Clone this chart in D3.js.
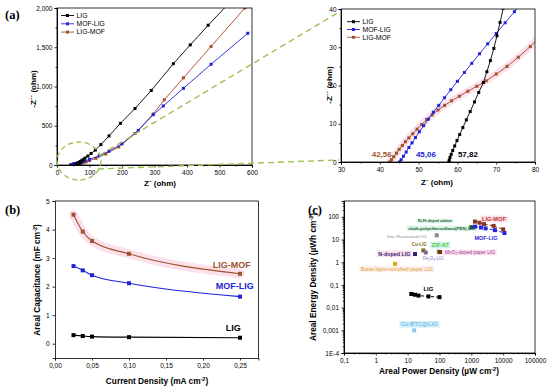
<!DOCTYPE html>
<html>
<head>
<meta charset="utf-8">
<script src="https://cdn.jsdelivr.net/npm/d3@7"></script>
<style>
body { margin: 0; background: #fff; }
svg { display: block; font-family: "Liberation Sans", Arial, sans-serif; }
.axis path, .axis line { stroke: #000; stroke-width: 0.8; }
.axis text { font-size: 6.5px; fill: #000; font-family: "Liberation Sans", Arial, sans-serif; }
.bold { font-weight: bold; }
</style>
</head>
<body>
<div id="graphics"></div>
<script>
// ---------- data: (a) Nyquist plots, Z' and -Z'' in ohm ----------
const ligRe = [57.82, 57.9, 58.1, 58.4, 58.8, 59.3, 59.9, 60.6, 61.4, 62.3, 63.3, 64.4, 65.5, 66.7, 67.6, 68.5, 69.4, 70.2, 71, 71.8, 72.6, 75, 80, 86, 95, 105, 118, 135, 160, 195, 240, 290, 358, 410, 465, 520];
const ligIm = [0, 0.5, 1.2, 2, 3, 4.2, 5.6, 7.2, 9, 11, 13.2, 15.7, 18.2, 20.8, 23.6, 26.5, 29.7, 33, 36.5, 40.2, 44, 53, 68, 88, 114, 147, 190, 260, 370, 530, 720, 950, 1290, 1530, 1780, 2020];

const mofRe = [45.06, 45.5, 46.1, 46.8, 47.5, 48.3, 49.2, 50.2, 51.3, 52.5, 53.8, 55.2, 56.7, 58.3, 60, 61.8, 63.7, 65.7, 67.8, 70, 72.3, 74.7, 77.2, 85, 100, 130, 160, 200, 250, 296, 327, 389, 474, 587];
const mofIm = [0, 0.6, 1.5, 2.6, 3.8, 5, 6.4, 7.9, 9.5, 11.2, 13, 14.8, 16.8, 18.9, 21.1, 23.4, 25.8, 28.3, 30.9, 33.6, 36.4, 39.3, 42.3, 52, 72, 118, 175, 270, 440, 640, 752, 977, 1283, 1678];

const lmRe = [42.56, 43, 43.6, 44.3, 45, 45.8, 46.6, 47.5, 48.5, 49.6, 50.8, 52.1, 53.5, 55, 56.7, 58.5, 60.5, 62.7, 65, 67.4, 70, 72.8, 75.7, 78.8, 82, 90, 100, 120, 150, 190, 240, 296, 330, 389, 474, 578, 640];
const lmIm = [0, 0.6, 1.4, 2.3, 3.3, 4.3, 5.3, 6.3, 7.4, 8.6, 9.8, 11.1, 12.3, 13.6, 14.8, 16, 17.2, 18.5, 19.8, 21.2, 23, 25, 27.4, 30.2, 33.5, 41, 55, 85, 140, 230, 400, 650, 830, 1110, 1510, 2000, 2280];

const seriesNames = ['LIG', 'MOF-LIG', 'LIG-MOF'];
const interceptLabels = ['57,82', '45,06', '42,56'];

// ---------- data: (b) areal capacitance ----------
const currentDensity = [0.025, 0.0375, 0.05, 0.1, 0.25];
const capLigMof = [4.52, 3.93, 3.6, 3.15, 2.45];
const capMofLig = [2.72, 2.57, 2.4, 2.12, 1.65];
const capLig = [0.3, 0.27, 0.25, 0.23, 0.21];

// ---------- data: (c) Ragone plot ----------
const ragLigMofP = [1300, 1800, 2500, 5000, 10000];
const ragLigMofE = [62, 55, 48, 40, 28];
const ragMofLigP = [1300, 2000, 2800, 5500, 11000];
const ragMofLigE = [37, 34, 31, 26, 19.5];
const ragLigP = [13, 17, 22, 45, 100];
const ragLigE = [0.04, 0.037, 0.034, 0.031, 0.029];

const litNames = ['Ni-Fe doped carbon|cloth-polyethersulfone(PES) LIG', 'Zinc-Fluorinated LIG', 'Cu-LIG', 'ZIF-67', 'Fe₂O₃-LIG', 'MnO₂-doped paper LIG', 'N-doped LIG', 'Borax-lignin-enriched paper LIG', 'Cu-BTC@LIG'];
const litPower = [1000, 82, 31, 95, 37, 105, 17, 4, 16];
const litEnergy = [35, 15.4, 3.3, 2.9, 2.7, 2.8, 2.3, 0.85, 0.001];

const xTicksC = [0.1, 1, 10, 100, 1000, 10000, 100000];
const xTickLabelsC = ['0,1', '1', '10', '100', '1000', '10000', '100000'];
const yTicksC = [1e-4, 1e-3, 1e-2, 0.1, 1, 10, 100];
const yTickLabelsC = ['1E-4', '0,001', '0,01', '0,1', '1', '10', '100'];

// ---------- styling / layout ----------
const colLIG = '#000000', colMOF = '#2222d8', colLM = '#a0522d';
const seriesColors = [colLIG, colMOF, colLM];
const litColors = ['#1f5a1f', '#8c8c8c', '#8a7412', '#5cc43a', '#8a6cc8', '#9a3aa0', '#3a1f70', '#e0a020', '#52b2e6'];
const litMarker = ['#1f5a1f', '#8c8c8c', '#7d6a18', '#4f9a35', '#7a6aa0', '#7a2a22', '#3a1f70', '#e0a020', '#8ac8f0'];
const litBg = ['#dcf5ec', null, null, '#cdf3ee', null, '#fde0ec', '#fde0ec', '#fdeef0', '#d2effa'];
// label centre offsets from the marker and target text widths (pixels)
const litLabelPos = [[[-36.3, -6.2], [-29.6, 1.1]], [[-30.1, 1.4]], [[-4, -6.2]], [[1.5, -6.7]], [[7.6, 6.5]], [[29.8, 0.4]], [[-20.7, -0.3]], [[1.7, 5.2]], [[5.1, -6]]];
const litLabelW = [[34, 67], [40], [15], [17], [21], [50], [32], [72], [37]];
const litBold = [true, false, true, true, false, false, true, false, false];

const svg = d3.select('#graphics').append('svg').attr('width', 550).attr('height', 390);
svg.append('rect').attr('width', 550).attr('height', 390).attr('fill', '#fff');
const defs = svg.append('defs');

function clip(id, x, y, w, h) {
  defs.append('clipPath').attr('id', id).append('rect').attr('x', x).attr('y', y).attr('width', w).attr('height', h);
}

function square(g, x, y, s, fill) {
  g.append('rect').attr('x', x - s / 2).attr('y', y - s / 2).attr('width', s).attr('height', s).attr('fill', fill);
}

// shrink / grow a text so it spans the given width
function fitText(t, w) {
  const len = t.node().getComputedTextLength();
  const f = parseFloat(t.attr('font-size'));
  if (len > 0) t.attr('font-size', f * w / len);
}

function highlight(layer, t, fill) {
  const b = t.node().getBBox();
  layer.insert('rect', 'text').attr('x', b.x - 1.5).attr('y', b.y - 0.3)
    .attr('width', b.width + 3).attr('height', b.height + 0.6).attr('fill', fill);
}

function panelLetter(txt, x, y) {
  svg.append('text').text(txt).attr('x', x).attr('y', y)
    .attr('font-family', '"Liberation Serif", "Times New Roman", serif')
    .attr('font-weight', 'bold').attr('font-size', 12.5);
}

// ================= (a) Nyquist plots =================
const xL = d3.scaleLinear().domain([0, 600]).range([57, 252]);
const yL = d3.scaleLinear().domain([0, 2000]).range([165, 8]);
const xR = d3.scaleLinear().domain([30, 80]).range([341, 535]);
const yR = d3.scaleLinear().domain([0, 40]).range([162, 9]);

const eis = [d3.zip(ligRe, ligIm), d3.zip(mofRe, mofIm), d3.zip(lmRe, lmIm)];

function nyquist(xs, ys, clipId, ms, majX, minX, majY, minY, halo) {
  const [x0, x1] = xs.range(), [y0, y1] = ys.range();
  clip(clipId, x0, y1, x1 - x0, y0 - y1);
  const g = svg.append('g');
  const line = d3.line().x(d => xs(d[0])).y(d => ys(d[1]));
  const plot = g.append('g').attr('clip-path', `url(#${clipId})`);
  if (halo) {
    plot.append('path').datum(eis[2]).attr('d', line).attr('fill', 'none')
      .attr('stroke', '#fbe1ec').attr('stroke-width', 7).attr('stroke-linecap', 'round');
  }
  g.append('g').attr('class', 'axis').attr('transform', `translate(0,${y0})`)
    .call(d3.axisBottom(xs).tickValues(majX).tickSize(2.5).tickPadding(2.5));
  g.append('g').attr('class', 'axis').attr('transform', `translate(0,${y0})`)
    .call(d3.axisBottom(xs).tickValues(minX).tickSize(1.5).tickFormat(''));
  g.append('g').attr('class', 'axis').attr('transform', `translate(${x0},0)`)
    .call(d3.axisLeft(ys).tickValues(majY).tickSize(2.5).tickPadding(2));
  g.append('g').attr('class', 'axis').attr('transform', `translate(${x0},0)`)
    .call(d3.axisLeft(ys).tickValues(minY).tickSize(1.5).tickFormat(''));
  g.append('rect').attr('x', x0).attr('y', y1).attr('width', x1 - x0).attr('height', y0 - y1)
    .attr('fill', 'none').attr('stroke', '#000').attr('stroke-width', 0.8);
  [2, 1, 0].forEach(i => {
    plot.append('path').datum(eis[i]).attr('d', line).attr('fill', 'none')
      .attr('stroke', i === 2 ? '#b2402a' : seriesColors[i]).attr('stroke-width', 0.9);
    eis[i].forEach(d => square(plot, xs(d[0]), ys(d[1]), ms, seriesColors[i]));
  });
  return g;
}

nyquist(xL, yL, 'clipL', 3,
  d3.range(0, 601, 100), d3.range(50, 600, 100),
  d3.range(0, 2001, 500), d3.range(250, 2000, 500), false);

nyquist(xR, yR, 'clipR', 3,
  d3.range(30, 81, 10), d3.range(35, 80, 10),
  d3.range(0, 41, 10), d3.range(5, 40, 10), true);

// legends
function legend(x, y0, dy) {
  seriesNames.forEach((n, i) => {
    const y = y0 + i * dy;
    svg.append('line').attr('x1', x).attr('x2', x + 13).attr('y1', y).attr('y2', y)
      .attr('stroke', seriesColors[i]).attr('stroke-width', 0.9);
    square(svg, x + 6.5, y, 3, seriesColors[i]);
    svg.append('text').text(n).attr('x', x + 15.5).attr('y', y + 2.3).attr('font-size', 6.8);
  });
}
legend(61, 15.5, 8.3);
legend(347, 21.7, 7.8);

// axis titles
svg.append('text').attr('class', 'bold').attr('font-size', 8).attr('text-anchor', 'middle')
  .attr('transform', 'translate(36,89) rotate(-90)').text('-Z´´ (ohm)');
svg.append('text').attr('class', 'bold').attr('font-size', 8).attr('text-anchor', 'middle')
  .attr('x', 160).attr('y', 186).text('Z´ (ohm)');
svg.append('text').attr('class', 'bold').attr('font-size', 8).attr('text-anchor', 'middle')
  .attr('transform', 'translate(332,85) rotate(-90)').text('-Z´´ (ohm)');
svg.append('text').attr('class', 'bold').attr('font-size', 8).attr('text-anchor', 'middle')
  .attr('x', 437).attr('y', 185).text('Z´ (ohm)');

// intercept values
const interceptDx = [19, 26.5, -8];
[0, 1, 2].forEach(i => {
  svg.append('text').attr('class', 'bold').attr('font-size', 8).attr('text-anchor', 'middle')
    .attr('fill', seriesColors[i])
    .attr('x', xR(eis[i][0][0]) + interceptDx[i]).attr('y', yR(0) - 5)
    .text(interceptLabels[i]);
});

// zoom marker: dashed ellipse + connecting lines
const zoomCol = '#9dc253';
svg.append('ellipse').attr('cx', 79).attr('cy', 161).attr('rx', 22).attr('ry', 19)
  .attr('fill', 'none').attr('stroke', zoomCol).attr('stroke-width', 1.4).attr('stroke-dasharray', '5,3.5');
svg.append('line').attr('x1', 100).attr('y1', 155).attr('x2', 339).attr('y2', 12)
  .attr('stroke', zoomCol).attr('stroke-width', 1.4).attr('stroke-dasharray', '6,4');
svg.append('line').attr('x1', 98).attr('y1', 169).attr('x2', 339).attr('y2', 160)
  .attr('stroke', zoomCol).attr('stroke-width', 1.4).attr('stroke-dasharray', '6,4');

panelLetter('(a)', 5, 19);

// ================= (b) areal capacitance =================
const xB = d3.scaleLinear().domain([0, 0.275]).range([55, 258.5]);
const yB = d3.scaleLinear().domain([-0.5, 5]).range([358, 201]);
const gB = svg.append('g');
const capSeries = [capLig, capMofLig, capLigMof];
const capLine = d3.line().curve(d3.curveMonotoneX).x(d => xB(d[0])).y(d => yB(d[1]));
gB.append('path').datum(d3.zip(currentDensity, capLigMof)).attr('d', capLine).attr('fill', 'none')
  .attr('stroke', '#fbe1ec').attr('stroke-width', 9).attr('stroke-linecap', 'round');
gB.append('g').attr('class', 'axis').attr('transform', 'translate(0,358)')
  .call(d3.axisBottom(xB).tickValues(d3.range(0, 0.26, 0.05)).tickSize(2.5).tickPadding(3)
    .tickFormat(d => d3.format('.2f')(d).replace('.', ',')));
gB.append('g').attr('class', 'axis').attr('transform', 'translate(55,0)')
  .call(d3.axisLeft(yB).tickValues(d3.range(0, 6)).tickSize(2.5).tickPadding(3).tickFormat(d3.format('d')));
gB.append('line').attr('x1', 55).attr('x2', 258.5).attr('y1', 201).attr('y2', 201).attr('stroke', '#000').attr('stroke-width', 0.8);
gB.append('line').attr('x1', 258.5).attr('x2', 258.5).attr('y1', 201).attr('y2', 358).attr('stroke', '#000').attr('stroke-width', 0.8);
gB.selectAll('.axis text').attr('font-size', 7.2);

capSeries.forEach((vals, i) => {
  const pts = d3.zip(currentDensity, vals);
  gB.append('path').datum(pts).attr('d', capLine).attr('fill', 'none')
    .attr('stroke', seriesColors[i]).attr('stroke-width', 1.1);
  pts.forEach(d => square(gB, xB(d[0]), yB(d[1]), 4, seriesColors[i]));
});
const capLabelY = [0.46, 1.92, 2.67];
const capLabelX = [0.241, 0.243, 0.2388];
[0, 1, 2].forEach(i => {
  gB.append('text').attr('class', 'bold').attr('font-size', 9).attr('text-anchor', 'middle')
    .attr('fill', seriesColors[i]).attr('x', xB(capLabelX[i])).attr('y', yB(capLabelY[i]))
    .text(seriesNames[i]);
});

function axisTitle(x, y, rot, txt) {
  const t = svg.append('text').attr('class', 'bold').attr('font-size', 8.3).attr('text-anchor', 'middle')
    .attr('transform', `translate(${x},${y})` + (rot ? ' rotate(-90)' : ''));
  t.append('tspan').text(txt);
  t.append('tspan').text('-2').attr('font-size', 5.5).attr('dy', -3);
  t.append('tspan').text(')').attr('dy', 3);
}
axisTitle(40, 280, true, 'Areal Capacitance (mF cm');
axisTitle(157, 384, false, 'Current Density (mA cm');

panelLetter('(b)', 5, 214);

// ================= (c) Ragone plot =================
const xC = d3.scaleLog().domain([0.1, 1e5]).range([344, 535]);
const yC = d3.scaleLog().domain([1e-4, 500]).range([353, 201]);
const gC = svg.append('g');
const minorX = [], minorY = [];
for (let e = -1; e < 5; e++) for (let k = 2; k < 10; k++) minorX.push(k * Math.pow(10, e));
for (let e = -4; e < 3; e++) for (let k = 2; k < 10; k++) if (k * Math.pow(10, e) <= 500) minorY.push(k * Math.pow(10, e));
gC.append('g').attr('class', 'axis').attr('transform', 'translate(0,353)')
  .call(d3.axisBottom(xC).tickValues(xTicksC).tickSize(2.5).tickPadding(3)
    .tickFormat((d, i) => xTickLabelsC[i]));
gC.append('g').attr('class', 'axis').attr('transform', 'translate(0,353)')
  .call(d3.axisBottom(xC).tickValues(minorX).tickSize(1.3).tickFormat(''));
gC.append('g').attr('class', 'axis').attr('transform', 'translate(344,0)')
  .call(d3.axisLeft(yC).tickValues(yTicksC).tickSize(2.5).tickPadding(2.5)
    .tickFormat((d, i) => yTickLabelsC[i]));
gC.append('g').attr('class', 'axis').attr('transform', 'translate(344,0)')
  .call(d3.axisLeft(yC).tickValues(minorY).tickSize(1.3).tickFormat(''));
gC.append('rect').attr('x', 344).attr('y', 201).attr('width', 191).attr('height', 152)
  .attr('fill', 'none').attr('stroke', '#000').attr('stroke-width', 0.8);

// literature points with labels
const labelLayer = gC.append('g');
const markLayer = gC.append('g');
litNames.forEach((name, i) => {
  const px = xC(litPower[i]), py = yC(litEnergy[i]);
  name.split('|').forEach((ln, j) => {
    const [dx, dy] = litLabelPos[i][j];
    const t = labelLayer.append('text').attr('x', px + dx).attr('y', py + dy)
      .attr('text-anchor', 'middle').attr('dominant-baseline', 'central').attr('font-size', 5)
      .attr('font-weight', litBold[i] ? 'bold' : 'normal').attr('fill', litColors[i]).text(ln);
    fitText(t, litLabelW[i][j]);
    if (litBg[i]) highlight(labelLayer, t, litBg[i]);
  });
  square(markLayer, px, py, 4, litMarker[i]);
});

const ragLine = d3.line().x(d => xC(d[0])).y(d => yC(d[1]));
const ragSeries = [d3.zip(ragLigP, ragLigE), d3.zip(ragMofLigP, ragMofLigE), d3.zip(ragLigMofP, ragLigMofE)];
const ragColors = ['#000', '#2525e0', '#8b3324'];
ragSeries.forEach((pts, i) => {
  markLayer.append('path').datum(pts).attr('d', ragLine).attr('fill', 'none')
    .attr('stroke', ragColors[i]).attr('stroke-width', 1).attr('stroke-dasharray', '3,2');
  pts.forEach(d => square(markLayer, xC(d[0]), yC(d[1]), 4, ragColors[i]));
});
// series labels, centred relative to one point of each series
const ragLabRef = [3, 2, 3];
const ragLabOff = [[0, -7.5], [0.4, 9.3], [0.4, -6.9]];
const ragLabW = [10, 23, 24];
const ragLabCol = ['#000', '#2525e0', '#c0392b'];
const ragLabBg = [null, null, '#fde0ec'];
[0, 1, 2].forEach(i => {
  const p = ragSeries[i][ragLabRef[i]];
  const t = labelLayer.append('text').attr('class', 'bold').attr('font-size', 6)
    .attr('text-anchor', 'middle').attr('dominant-baseline', 'central').attr('fill', ragLabCol[i])
    .attr('x', xC(p[0]) + ragLabOff[i][0]).attr('y', yC(p[1]) + ragLabOff[i][1]).text(seriesNames[i]);
  fitText(t, ragLabW[i]);
  if (ragLabBg[i]) highlight(labelLayer, t, ragLabBg[i]);
});

axisTitle(316, 277, true, 'Areal Energy Density (µWh cm');
axisTitle(439, 374, false, 'Areal Power Density (µW cm');

panelLetter('(c)', 308, 214);
</script>
</body>
</html>
